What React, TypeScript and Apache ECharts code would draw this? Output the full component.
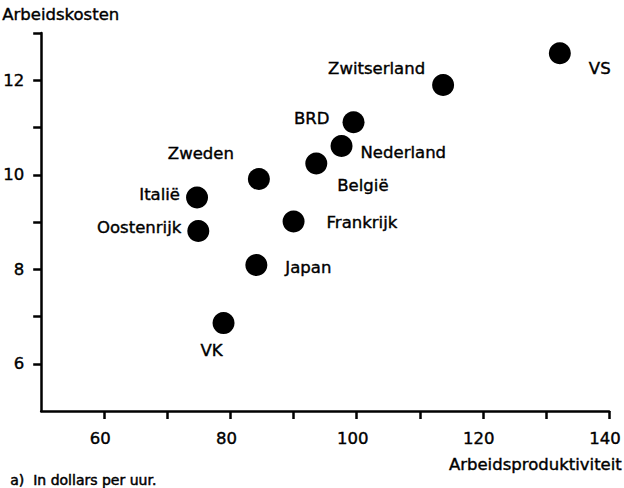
import React, { useEffect, useRef } from "react";
import * as echarts from "echarts";

const countries = ["VS", "Zwitserland", "BRD", "Nederland", "België", "Zweden", "Italië", "Oostenrijk", "Frankrijk", "Japan", "VK"];
const productivity = [132.2, 113.7, 99.5, 97.6, 93.6, 84.5, 74.7, 74.9, 90.0, 84.1, 78.9];
const laborCost = [12.57, 11.9, 11.11, 10.61, 10.24, 9.91, 9.52, 8.81, 9.01, 8.09, 6.86];
const xTicks = [60, 70, 80, 90, 100, 110, 120, 130, 140];
const xLabels = [60, 80, 100, 120, 140];
const yTicks = [6, 7, 8, 9, 10, 11, 12, 13];
const yLabels = [6, 8, 10, 12];

const yTitle = "Arbeidskosten";
const xTitle = "Arbeidsproduktiviteit";
const footnote = "a)  In dollars per uur.";

// label placement per country (style, not data)
const labelPlacement: Record<string, { position: string; distance: number; offset: number[] }> = {
  VS: { position: "right", distance: 18, offset: [0, 15] },
  Zwitserland: { position: "left", distance: 7, offset: [0, -16] },
  BRD: { position: "left", distance: 13, offset: [0, -4] },
  Nederland: { position: "right", distance: 8, offset: [0, 7] },
  "België": { position: "right", distance: 10, offset: [0, 22] },
  Zweden: { position: "left", distance: 14, offset: [0, -26] },
  "Italië": { position: "left", distance: 6, offset: [0, -3] },
  Oostenrijk: { position: "left", distance: 6, offset: [0, -3] },
  Frankrijk: { position: "right", distance: 22, offset: [0, 1] },
  Japan: { position: "right", distance: 18, offset: [0, 3] },
  VK: { position: "bottom", distance: 8, offset: [-12, 0] },
};

const FONT = "'DejaVu Sans', Verdana, sans-serif";
const FS = 16.5;
const ink = { color: "#000", fontFamily: FONT, fontSize: FS, textBorderColor: "#000", textBorderWidth: 0.4 };

export default function App() {
  const ref = useRef<HTMLDivElement>(null);
  useEffect(() => {
    document.body.style.margin = "0";
    if (!ref.current) return;
    const chart = echarts.init(ref.current, null, { renderer: "svg" });
    const data = countries.map((c, i) => ({
      name: c,
      value: [productivity[i], laborCost[i]],
      label: {
        show: true,
        formatter: c,
        position: labelPlacement[c].position,
        distance: labelPlacement[c].distance,
        offset: labelPlacement[c].offset,
      },
    }));
    const axisLine = { show: true, onZero: false, lineStyle: { color: "#000", width: 2.5 } };
    const axisTickStyle = { color: "#000", width: 2.5 };
    chart.setOption({
      animation: false,
      backgroundColor: "#fff",
      grid: { left: 41, right: 11, top: 33, bottom: 77, containLabel: false },
      xAxis: {
        type: "value",
        min: 50,
        max: 140,
        interval: 10,
        axisLine,
        splitLine: { show: false },
        axisTick: { show: true, length: 8, lineStyle: axisTickStyle, customValues: xTicks },
        axisLabel: { ...ink, margin: 19, padding: [0, 8, 0, 0], customValues: xLabels },
      },
      yAxis: {
        type: "value",
        min: 5,
        max: 13,
        interval: 1,
        axisLine,
        splitLine: { show: false },
        axisTick: { show: true, length: 8, lineStyle: axisTickStyle, customValues: yTicks },
        axisLabel: { ...ink, margin: 17, customValues: yLabels },
      },
      graphic: [
        { type: "text", left: 2, top: 6, style: { text: yTitle, fill: "#000", stroke: "#000", lineWidth: 0.4, font: `${FS}px ${FONT}` } },
        { type: "text", right: 2, top: 456, style: { text: xTitle, fill: "#000", stroke: "#000", lineWidth: 0.4, font: `${FS}px ${FONT}` } },
        { type: "text", left: 10, top: 473, style: { text: footnote, fill: "#000", stroke: "#000", lineWidth: 0.5, font: `14px ${FONT}` } },
      ],
      series: [
        {
          type: "scatter",
          symbol: "circle",
          symbolSize: 22,
          itemStyle: { color: "#000", opacity: 1 },
          label: { ...ink },
          emphasis: { disabled: true },
          data,
        },
      ],
    });
    return () => chart.dispose();
  }, []);
  return <div ref={ref} style={{ width: 624, height: 488 }} />;
}
